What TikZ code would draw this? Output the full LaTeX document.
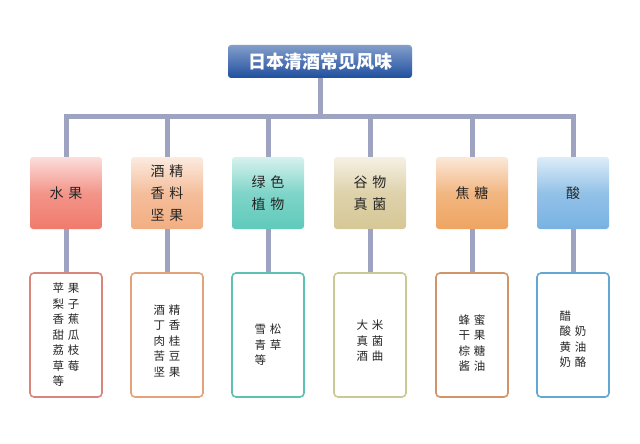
\documentclass[tikz,border=0pt]{standalone}
\usepackage{fontspec}
\setmainfont{Noto Sans CJK SC}
\begin{document}
\begin{tikzpicture}[x=1pt,y=-1pt,
  bus/.style={draw=conn,line width=5pt},
  topbox/.style={rounded corners=3pt,minimum width=72pt,minimum height=72pt,inner sep=0pt,align=center,font=\fontsize{14}{22}\selectfont,text=black!85},
  lowbox/.style={draw=#1,line width=1.6pt,rounded corners=4pt,fill=white,minimum width=72pt,minimum height=124pt,inner sep=0pt},
  lowtxt/.style={align=left,font=\fontsize{11.5}{15.5}\selectfont,text=black!85}]
\definecolor{conn}{HTML}{9DA3C0}
\definecolor{c1}{HTML}{F07A6C}\definecolor{b1}{HTML}{D9857C}
\definecolor{c2}{HTML}{F2AE82}\definecolor{b2}{HTML}{E3A27A}
\definecolor{c3}{HTML}{5FCABB}\definecolor{b3}{HTML}{5CC0B2}
\definecolor{c4}{HTML}{D6C796}\definecolor{b4}{HTML}{C9C994}
\definecolor{c5}{HTML}{EFA462}\definecolor{b5}{HTML}{D2956A}
\definecolor{c6}{HTML}{78B2E2}\definecolor{b6}{HTML}{62A8D2}
\definecolor{tb}{HTML}{1F4F9F}
\useasboundingbox (0,0) rectangle (640,444);
\fill[white] (0,0) rectangle (640,444);
\node[rounded corners=3pt,top color=tb!55,bottom color=tb,minimum width=184pt,minimum height=33pt,inner sep=0pt,text=white,font=\fontsize{18}{18}\selectfont\bfseries] (title) at (320,61.5) {日本清酒常见风味};
\coordinate (j) at (320,116);
\draw[bus] (title.south) -- (j);
\foreach \x/\i in {66/1,167/2,268/3,370/4,472/5,573/6}{
  \coordinate (h\i) at (\x,116);
}
\draw[bus,line cap=rect] (h1) -- (h6);
\foreach \x/\i in {66/1,167/2,268/3,370/4,472/5,573/6}{
  \node[lowbox=b\i] (l\i) at (\x,335) {};
  \node[topbox,top color=c\i!25,bottom color=c\i,middle color=c\i!80] (t\i) at (\x,193) {};
  \draw[bus] (h\i) -- (t\i.north);
  \draw[bus] (t\i.south) -- (l\i.north);
}
\node[topbox] (a1) at (t1) {水\,\,果};
\node[topbox] (a2) at (t2) {酒\,\,精\\香\,\,料\\坚\,\,果};
\node[topbox] (a3) at (t3) {绿\,\,色\\植\,\,物};
\node[topbox] (a4) at (t4) {谷\,\,物\\真\,\,菌};
\node[topbox] (a5) at (t5) {焦\,\,糖};
\node[topbox] (a6) at (t6) {酸};
\node[lowtxt] (d1) at (l1) {苹\,\,果\\梨\,\,子\\香\,\,蕉\\甜\,\,瓜\\荔\,\,枝\\草\,\,莓\\等};
\node[lowtxt] (d2) at ([yshift=-6]l2) {酒\,\,精\\丁\,\,香\\肉\,\,桂\\苦\,\,豆\\坚\,\,果};
\node[lowtxt] (d3) at ([yshift=-10]l3) {雪\,\,松\\青\,\,草\\等};
\node[lowtxt] (d4) at ([yshift=-6]l4) {大\,\,米\\真\,\,菌\\酒\,\,曲};
\node[lowtxt] (d5) at ([yshift=-8]l5) {蜂\,\,蜜\\干\,\,果\\棕\,\,糖\\酱\,\,油};
\node[lowtxt] (d6) at ([yshift=-4]l6) {醋\\酸\,\,奶\\黄\,\,油\\奶\,\,酪};
\end{tikzpicture}
\end{document}
